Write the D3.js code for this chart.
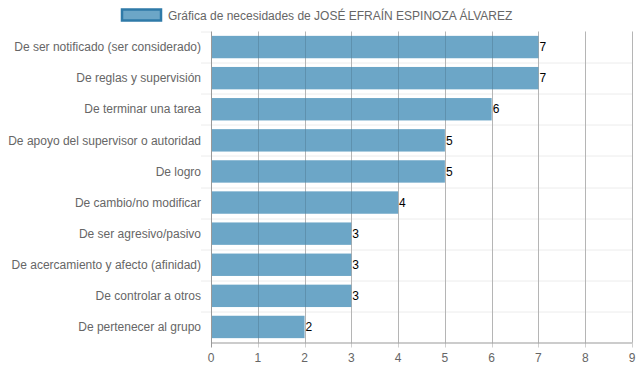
<!DOCTYPE html>
<html>
<head>
<meta charset="utf-8">
<script src="https://cdn.jsdelivr.net/npm/d3@7"></script>
<style>
  body { margin: 0; background: #fff; }
  text { font-family: "Liberation Sans", Arial, sans-serif; }
</style>
</head>
<body>
<svg id="chart"></svg>
<script>
var categories = [
    "De ser notificado (ser considerado)",
    "De reglas y supervisión",
    "De terminar una tarea",
    "De apoyo del supervisor o autoridad",
    "De logro",
    "De cambio/no modificar",
    "De ser agresivo/pasivo",
    "De acercamiento y afecto (afinidad)",
    "De controlar a otros",
    "De pertenecer al grupo"
];
var values = [7, 7, 6, 5, 5, 4, 3, 3, 3, 2];
var xTicks = [0, 1, 2, 3, 4, 5, 6, 7, 8, 9];
var legendLabel = "Gráfica de necesidades de JOSÉ EFRAÍN ESPINOZA ÁLVAREZ";

var totalWidth = 639;
var totalHeight = 372;
var margin = { top: 31.5, right: 7, bottom: 29.5, left: 211 };
var width = totalWidth - margin.left - margin.right;
var height = totalHeight - margin.top - margin.bottom;

var svg = d3.select("#chart")
    .attr("width", totalWidth)
    .attr("height", totalHeight);

// legend
var legend = svg.append("g");
legend.append("rect")
    .attr("x", 122).attr("y", 9.5)
    .attr("width", 39).attr("height", 11)
    .attr("fill", "#6ca6c7")
    .attr("stroke", "#2f7aa8")
    .attr("stroke-width", 2.5);
legend.append("text")
    .attr("x", 168).attr("y", 19.5)
    .attr("font-size", 12)
    .attr("fill", "#666")
    .text(legendLabel);

var x = d3.scaleLinear().domain([0, 9]).range([0, width]);
var y = d3.scaleBand().domain(categories).range([0, height]).paddingInner(0.28).paddingOuter(0.14);
var band = d3.scaleBand().domain(categories).range([0, height]);

var g = svg.append("g")
    .attr("transform", "translate(" + margin.left + "," + margin.top + ")");

// horizontal grid lines between categories
g.selectAll(".hgrid")
    .data(categories.slice(1))
    .enter()
    .append("line")
    .attr("x1", -10).attr("x2", width)
    .attr("y1", function (d) { return Math.round(band(d)) + 0.5; })
    .attr("y2", function (d) { return Math.round(band(d)) + 0.5; })
    .attr("stroke", "#ececec");
g.append("line")
    .attr("x1", -10).attr("x2", 0)
    .attr("y1", 0.5).attr("y2", 0.5)
    .attr("stroke", "#ececec");

// vertical grid lines
g.selectAll(".vgrid")
    .data(xTicks.slice(1))
    .enter()
    .append("line")
    .attr("x1", function (d) { return Math.round(x(d)) + 0.5; })
    .attr("x2", function (d) { return Math.round(x(d)) + 0.5; })
    .attr("y1", 0).attr("y2", height + 5)
    .attr("stroke", "#cfcfcf");

// bars
g.selectAll(".bar")
    .data(values)
    .enter()
    .append("rect")
    .attr("class", "bar")
    .attr("x", x(0))
    .attr("y", function (d, i) { return y(categories[i]); })
    .attr("width", function (d) { return x(d) - x(0); })
    .attr("height", y.bandwidth())
    .attr("fill", "#6ca6c7");

// redraw grid lines faintly over bars
g.selectAll(".vgrid2")
    .data(xTicks.slice(1))
    .enter()
    .append("line")
    .attr("x1", function (d) { return Math.round(x(d)) + 0.5; })
    .attr("x2", function (d) { return Math.round(x(d)) + 0.5; })
    .attr("y1", 0).attr("y2", height)
    .attr("stroke", "rgba(0,0,0,0.12)");

// y axis line
g.append("line")
    .attr("x1", 0.5).attr("x2", 0.5)
    .attr("y1", 0).attr("y2", height + 5)
    .attr("stroke", "#999");

// x axis line
g.append("line")
    .attr("x1", 0).attr("x2", width)
    .attr("y1", height + 0.5).attr("y2", height + 0.5)
    .attr("stroke", "#999");

// x tick labels
g.selectAll(".xlab")
    .data(xTicks)
    .enter()
    .append("text")
    .attr("x", function (d) { return x(d); })
    .attr("y", height + 19)
    .attr("text-anchor", "middle")
    .attr("font-size", 12)
    .attr("fill", "#666")
    .text(function (d) { return d; });

// category labels
g.selectAll(".ylab")
    .data(categories)
    .enter()
    .append("text")
    .attr("x", -10)
    .attr("y", function (d) { return band(d) + band.bandwidth() / 2; })
    .attr("dy", "0.35em")
    .attr("text-anchor", "end")
    .attr("font-size", 12)
    .attr("fill", "#666")
    .text(function (d) { return d; });

// value labels
g.selectAll(".vlab")
    .data(values)
    .enter()
    .append("text")
    .attr("x", function (d) { return x(d) + 1; })
    .attr("y", function (d, i) { return band(categories[i]) + band.bandwidth() / 2; })
    .attr("dy", "0.35em")
    .attr("font-size", 12)
    .attr("fill", "#000")
    .text(function (d) { return d; });
</script>
</body>
</html>
